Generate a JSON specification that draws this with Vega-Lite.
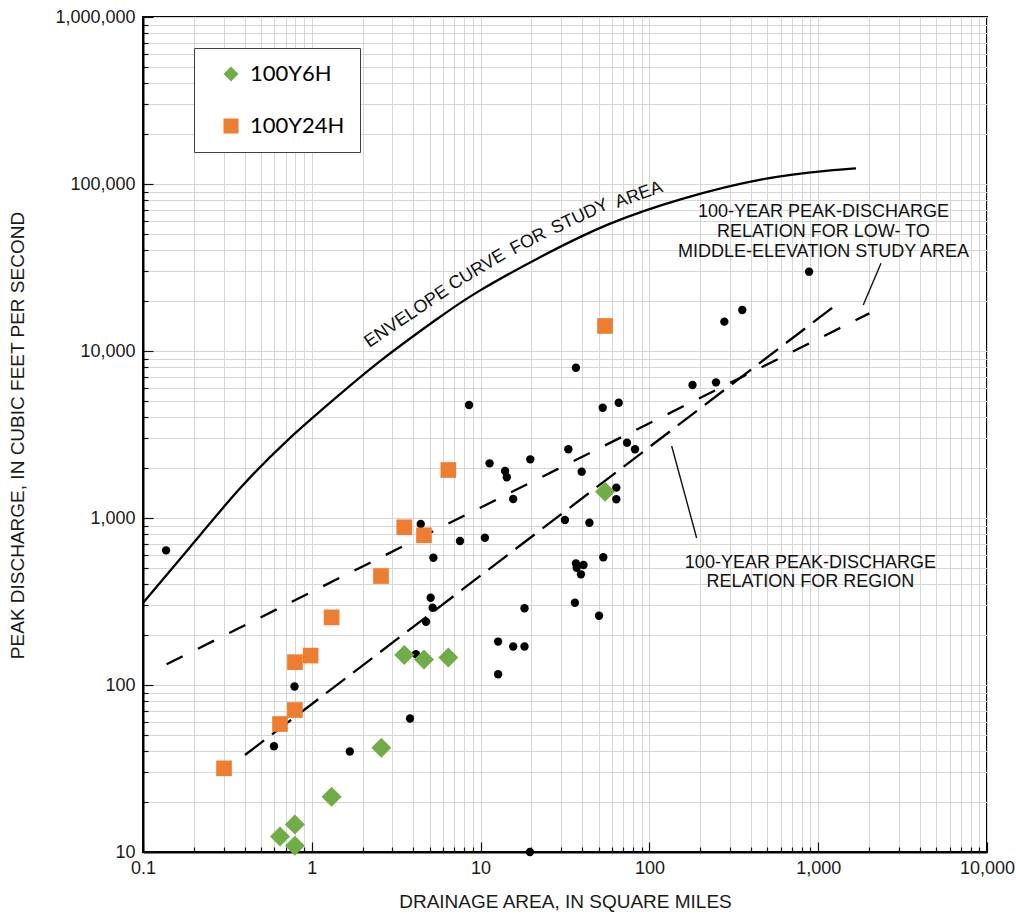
{
  "$schema": "https://vega.github.io/schema/vega-lite/v6.json",
  "width": 844,
  "height": 835,
  "autosize": {"type": "none"},
  "padding": {"left": 143, "top": 17, "right": 29, "bottom": 63},
  "background": "#ffffff",
  "config": {
    "font": "Liberation Sans",
    "view": {"stroke": "#000000", "strokeWidth": 2},
    "axis": {
      "grid": true,
      "gridColor": "#d6d6d6",
      "gridWidth": 1,
      "domain": true,
      "domainColor": "#000000",
      "domainWidth": 2,
      "tickColor": "#111111",
      "tickWidth": 1.2,
      "labelFont": "Liberation Sans",
      "labelFontSize": 18,
      "labelColor": "#1a1a1a",
      "titleFont": "Liberation Sans",
      "titleFontSize": 19,
      "titleFontWeight": "normal",
      "titleColor": "#1a1a1a",
      "labelOverlap": false,
      "labelFlush": false
    }
  },
  "datasets": {
    "sites": [
      {"area": 0.137, "q": 640}, {"area": 0.79, "q": 98}, {"area": 0.597, "q": 43}, {"area": 1.68, "q": 40},
      {"area": 3.82, "q": 63}, {"area": 4.42, "q": 920}, {"area": 7.55, "q": 728}, {"area": 10.6, "q": 762},
      {"area": 5.25, "q": 578}, {"area": 5.06, "q": 333}, {"area": 5.2, "q": 290}, {"area": 4.75, "q": 239},
      {"area": 4.14, "q": 153}, {"area": 12.7, "q": 182}, {"area": 12.7, "q": 116}, {"area": 8.54, "q": 4750},
      {"area": 11.3, "q": 2125}, {"area": 19.7, "q": 2246}, {"area": 13.96, "q": 1911}, {"area": 14.3, "q": 1753},
      {"area": 15.6, "q": 1300}, {"area": 33.1, "q": 2580}, {"area": 39.7, "q": 1894}, {"area": 52.9, "q": 4575},
      {"area": 65.8, "q": 4900}, {"area": 73.7, "q": 2825}, {"area": 82.2, "q": 2580}, {"area": 63.7, "q": 1520},
      {"area": 63.7, "q": 1295}, {"area": 31.6, "q": 973}, {"area": 44.1, "q": 937}, {"area": 53.3, "q": 582},
      {"area": 36.7, "q": 535}, {"area": 40.7, "q": 523}, {"area": 37.1, "q": 504}, {"area": 39.3, "q": 460},
      {"area": 36.2, "q": 311}, {"area": 50.3, "q": 260}, {"area": 18.2, "q": 288}, {"area": 15.6, "q": 170},
      {"area": 18.2, "q": 170}, {"area": 19.6, "q": 10}, {"area": 883, "q": 29850}, {"area": 355, "q": 17600},
      {"area": 278, "q": 14990}, {"area": 36.7, "q": 7940}, {"area": 180, "q": 6260}, {"area": 248, "q": 6490}
    ],
    "storms": [
      {"storm": "100Y24H", "area": 0.302, "q": 31.7},
      {"storm": "100Y24H", "area": 0.648, "q": 58.4},
      {"storm": "100Y24H", "area": 0.794, "q": 70.8},
      {"storm": "100Y24H", "area": 0.795, "q": 137},
      {"storm": "100Y24H", "area": 0.984, "q": 150},
      {"storm": "100Y24H", "area": 1.31, "q": 254},
      {"storm": "100Y24H", "area": 2.57, "q": 449},
      {"storm": "100Y24H", "area": 3.53, "q": 880},
      {"storm": "100Y24H", "area": 4.62, "q": 788},
      {"storm": "100Y24H", "area": 6.44, "q": 1938},
      {"storm": "100Y24H", "area": 54.6, "q": 14120},
      {"storm": "100Y6H", "area": 0.648, "q": 12.4},
      {"storm": "100Y6H", "area": 0.794, "q": 14.6},
      {"storm": "100Y6H", "area": 0.794, "q": 10.9},
      {"storm": "100Y6H", "area": 1.31, "q": 21.4},
      {"storm": "100Y6H", "area": 2.58, "q": 42.1},
      {"storm": "100Y6H", "area": 3.53, "q": 151},
      {"storm": "100Y6H", "area": 4.62, "q": 142},
      {"storm": "100Y6H", "area": 6.44, "q": 146},
      {"storm": "100Y6H", "area": 54.6, "q": 1438}
    ]
  },
  "encoding": {
    "x": {
      "field": "area",
      "type": "quantitative",
      "title": "DRAINAGE AREA, IN SQUARE MILES",
      "scale": {"type": "log", "domain": [0.1, 10000], "nice": false, "zero": false},
      "axis": {
        "orient": "bottom",
        "values": [0.1, 0.2, 0.3, 0.4, 0.5, 0.6, 0.7, 0.8, 0.9, 1, 2, 3, 4, 5, 6, 7, 8, 9, 10, 20, 30, 40, 50, 60, 70, 80, 90, 100, 200, 300, 400, 500, 600, 700, 800, 900, 1000, 2000, 3000, 4000, 5000, 6000, 7000, 8000, 9000, 10000],
        "format": ",",
        "labelExpr": "indexof([0.1, 1, 10, 100, 1000, 10000], datum.value) >= 0 ? datum.label : ''",
        "tickSize": {"condition": {"test": "indexof([0.1, 1, 10, 100, 1000, 10000], datum.value) >= 0", "value": -10}, "value": -5},
        "labelPadding": 26,
        "labelBaseline": "middle",
        "titleY": 55,
        "titleBaseline": "alphabetic"
      }
    },
    "y": {
      "field": "q",
      "type": "quantitative",
      "title": "PEAK DISCHARGE, IN CUBIC FEET PER SECOND",
      "scale": {"type": "log", "domain": [10, 1000000], "nice": false, "zero": false},
      "axis": {
        "orient": "left",
        "values": [10, 20, 30, 40, 50, 60, 70, 80, 90, 100, 200, 300, 400, 500, 600, 700, 800, 900, 1000, 2000, 3000, 4000, 5000, 6000, 7000, 8000, 9000, 10000, 20000, 30000, 40000, 50000, 60000, 70000, 80000, 90000, 100000, 200000, 300000, 400000, 500000, 600000, 700000, 800000, 900000, 1000000],
        "format": ",",
        "labelExpr": "indexof([10, 100, 1000, 10000, 100000, 1000000], datum.value) >= 0 ? datum.label : ''",
        "tickSize": {"condition": {"test": "indexof([10, 100, 1000, 10000, 100000, 1000000], datum.value) >= 0", "value": -10}, "value": -5},
        "labelPadding": 18,
        "titleX": -120,
        "titleY": 418,
        "titleBaseline": "alphabetic"
      }
    }
  },
  "layer": [
    {
      "data": {"values": [
        {"area": 0.1, "q": 310}, {"area": 0.199, "q": 706}, {"area": 0.376, "q": 1540}, {"area": 0.71, "q": 2930},
        {"area": 1.34, "q": 5090}, {"area": 2.54, "q": 8830}, {"area": 5.75, "q": 16040}, {"area": 9.06, "q": 22150},
        {"area": 22.5, "q": 36700}, {"area": 55.8, "q": 58200}, {"area": 152, "q": 82100}, {"area": 495, "q": 110600},
        {"area": 1228, "q": 121300}, {"area": 1675, "q": 124100}
      ]},
      "mark": {"type": "line", "color": "#000000", "strokeWidth": 2.3, "interpolate": "basis"}
    },
    {
      "data": {"values": [{"area": 0.138, "q": 133}, {"area": 2010, "q": 16800}]},
      "mark": {"type": "line", "color": "#000000", "strokeWidth": 2.3, "strokeDash": [18, 17]}
    },
    {
      "data": {"values": [{"area": 0.402, "q": 38.1}, {"area": 1273, "q": 18850}]},
      "mark": {"type": "line", "color": "#000000", "strokeWidth": 2.3, "strokeDash": [24, 10]}
    },
    {
      "data": {"values": [
        {"id": "a", "area": 2355, "q": 33500}, {"id": "a", "area": 1849, "q": 18840},
        {"id": "b", "area": 135.5, "q": 2700}, {"id": "b", "area": 190.5, "q": 759}
      ]},
      "mark": {"type": "line", "color": "#111111", "strokeWidth": 1.4},
      "encoding": {"detail": {"field": "id", "type": "nominal"}}
    },
    {
      "data": {"name": "sites"},
      "mark": {"type": "point", "filled": true, "shape": "circle", "size": 70, "color": "#000000", "opacity": 1}
    },
    {
      "data": {"name": "storms"},
      "transform": [{"filter": "datum.storm === '100Y24H'"}],
      "mark": {"type": "point", "filled": true, "size": 245, "opacity": 1},
      "encoding": {
        "color": {"field": "storm", "type": "nominal", "scale": {"domain": ["100Y6H", "100Y24H"], "range": ["#70ad47", "#ed7d31"]},
          "legend": {"orient": "none", "legendX": 51, "legendY": 31, "title": null, "padding": 15, "symbolOffset": 11, "labelOffset": 8, "rowPadding": 30, "strokeColor": "#404040", "fillColor": "#ffffff", "labelFont": "Lato", "labelFontSize": 22, "labelColor": "#000000", "symbolSize": 225, "symbolStrokeWidth": 0}},
        "shape": {"field": "storm", "type": "nominal", "scale": {"domain": ["100Y6H", "100Y24H"], "range": ["diamond", "square"]},
          "legend": {"orient": "none", "legendX": 51, "legendY": 31, "title": null, "padding": 15, "symbolOffset": 11, "labelOffset": 8, "rowPadding": 30, "strokeColor": "#404040", "fillColor": "#ffffff", "labelFont": "Lato", "labelFontSize": 22, "labelColor": "#000000", "symbolSize": 225, "symbolStrokeWidth": 0}}
      }
    },
    {
      "data": {"name": "storms"},
      "transform": [{"filter": "datum.storm === '100Y6H'"}],
      "mark": {"type": "point", "filled": true, "size": 400, "opacity": 1},
      "encoding": {
        "color": {"field": "storm", "type": "nominal", "scale": {"domain": ["100Y6H", "100Y24H"], "range": ["#70ad47", "#ed7d31"]},
          "legend": {"orient": "none", "legendX": 51, "legendY": 31, "title": null, "padding": 15, "symbolOffset": 11, "labelOffset": 8, "rowPadding": 30, "strokeColor": "#404040", "fillColor": "#ffffff", "labelFont": "Lato", "labelFontSize": 22, "labelColor": "#000000", "symbolSize": 225, "symbolStrokeWidth": 0}},
        "shape": {"field": "storm", "type": "nominal", "scale": {"domain": ["100Y6H", "100Y24H"], "range": ["diamond", "square"]},
          "legend": {"orient": "none", "legendX": 51, "legendY": 31, "title": null, "padding": 15, "symbolOffset": 11, "labelOffset": 8, "rowPadding": 30, "strokeColor": "#404040", "fillColor": "#ffffff", "labelFont": "Lato", "labelFontSize": 22, "labelColor": "#000000", "symbolSize": 225, "symbolStrokeWidth": 0}}
      }
    },
    {
      "data": {"values": [
        {"label": "100-YEAR PEAK-DISCHARGE", "area": 1074, "q": 68200},
        {"label": "RELATION FOR LOW- TO", "area": 1074, "q": 51760},
        {"label": "MIDDLE-ELEVATION STUDY AREA", "area": 1074, "q": 39340},
        {"label": "100-YEAR PEAK-DISCHARGE", "area": 899, "q": 536},
        {"label": "RELATION FOR REGION", "area": 899, "q": 416}
      ]},
      "mark": {"type": "text", "font": "Liberation Sans", "fontSize": 18, "color": "#111111", "align": "center", "baseline": "middle"},
      "encoding": {"text": {"field": "label", "type": "nominal"}}
    },
    {
      "data": {"values": [{"label": "ENVELOPE", "area": 3.65, "q": 16030}]},
      "mark": {"type": "text", "font": "Liberation Sans", "fontSize": 18, "color": "#111111", "align": "center", "baseline": "middle", "angle": 326},
      "encoding": {"text": {"field": "label", "type": "nominal"}}
    },
    {
      "data": {"values": [{"label": "CURVE", "area": 9.55, "q": 30540}]},
      "mark": {"type": "text", "font": "Liberation Sans", "fontSize": 18, "color": "#111111", "align": "center", "baseline": "middle", "angle": 329},
      "encoding": {"text": {"field": "label", "type": "nominal"}}
    },
    {
      "data": {"values": [{"label": "FOR", "area": 19.2, "q": 45180}]},
      "mark": {"type": "text", "font": "Liberation Sans", "fontSize": 18, "color": "#111111", "align": "center", "baseline": "middle", "angle": 332},
      "encoding": {"text": {"field": "label", "type": "nominal"}}
    },
    {
      "data": {"values": [{"label": "STUDY", "area": 38.8, "q": 63660}]},
      "mark": {"type": "text", "font": "Liberation Sans", "fontSize": 18, "color": "#111111", "align": "center", "baseline": "middle", "angle": 335},
      "encoding": {"text": {"field": "label", "type": "nominal"}}
    },
    {
      "data": {"values": [{"label": "AREA", "area": 86.7, "q": 85900}]},
      "mark": {"type": "text", "font": "Liberation Sans", "fontSize": 18, "color": "#111111", "align": "center", "baseline": "middle", "angle": 340},
      "encoding": {"text": {"field": "label", "type": "nominal"}}
    }
  ]
}
